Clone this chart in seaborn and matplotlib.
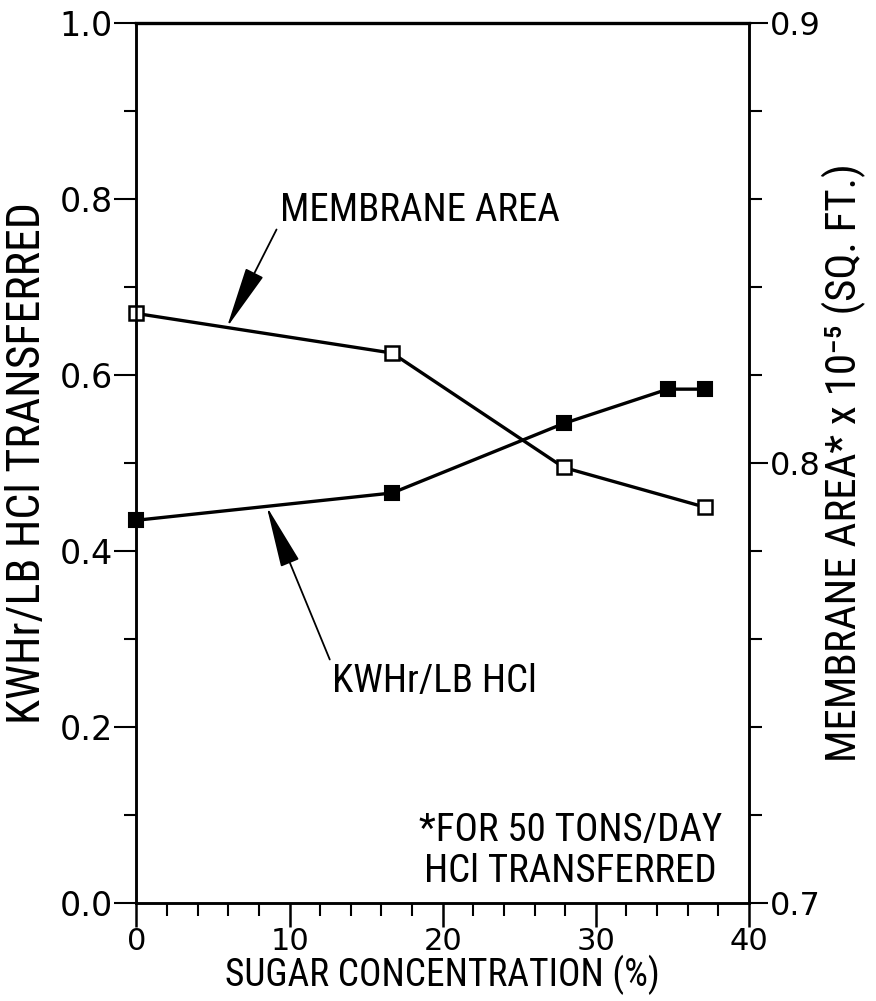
import numpy as np
import pandas as pd
import matplotlib
matplotlib.use("Agg")
import matplotlib.pyplot as plt
import seaborn as sns
from matplotlib.ticker import MultipleLocator

# ---- data ----
sugar_kwh = [0.0, 16.7, 27.9, 34.7, 37.1]
kwh_per_lb = [0.435, 0.466, 0.545, 0.584, 0.584]
sugar_mem = [0.0, 16.7, 27.9, 37.1]
membrane_area = [0.834, 0.825, 0.799, 0.790]

x_ticks = [0, 10, 20, 30, 40]
left_ticks = [0.0, 0.2, 0.4, 0.6, 0.8, 1.0]
right_ticks = [0.7, 0.8, 0.9]

x_label = "SUGAR CONCENTRATION (%)"
left_label = "KWHr/LB HCl TRANSFERRED"
right_label = "MEMBRANE AREA* x 10\u207b\u2075 (SQ. FT.)"
mem_text = "MEMBRANE AREA"
kwh_text = "KWHr/LB HCl"
note_text = "*FOR 50 TONS/DAY\nHCl TRANSFERRED"

sns.set_theme(style="white")
plt.rcParams["font.family"] = ["DejaVu Sans"]
for k in ("text.color", "axes.labelcolor", "xtick.color", "ytick.color"):
    plt.rcParams[k] = "black"
NARROW = ["Roboto Condensed", "Liberation Sans Narrow", "DejaVu Sans"]

fig = plt.figure(figsize=(8.76, 10.01), dpi=100)
ax = fig.add_axes([0.1558, 0.0979, 0.6992, 0.879])
ax2 = ax.twinx()

df_k = pd.DataFrame({"x": sugar_kwh, "y": kwh_per_lb})
df_m = pd.DataFrame({"x": sugar_mem, "y": membrane_area})

sns.lineplot(data=df_k, x="x", y="y", ax=ax, color="black", lw=2.4,
             marker="s", markersize=10, markerfacecolor="black",
             markeredgecolor="black", markeredgewidth=1.5, clip_on=False)
sns.lineplot(data=df_m, x="x", y="y", ax=ax2, color="black", lw=2.4,
             marker="s", markersize=10, markerfacecolor="white",
             markeredgecolor="black", markeredgewidth=1.8, clip_on=False)

ax.set_xlim(0, 40)
ax.set_ylim(0, 1.0)
ax2.set_ylim(0.7, 0.9)

for a in (ax, ax2):
    for s in a.spines.values():
        s.set_color("black")
        s.set_linewidth(1.8)
ax.spines["top"].set_linewidth(2.4)

ax.set_xticks(x_ticks)
ax.xaxis.set_minor_locator(MultipleLocator(2))
ax.set_yticks(left_ticks)
ax.yaxis.set_minor_locator(MultipleLocator(0.1))
ax2.set_yticks(right_ticks)
ax2.yaxis.set_minor_locator(MultipleLocator(0.02))

ax.set_yticklabels([f"{v:.1f}" for v in left_ticks])
ax2.set_yticklabels([f"{v:.1f}" for v in right_ticks])
ax.set_xticklabels([str(v) for v in x_ticks])

ax.tick_params(axis="x", which="major", direction="out", length=17, width=1.8,
               labelsize=22, pad=0, bottom=True, top=False)
ax.tick_params(axis="x", which="minor", direction="out", length=9, width=1.5,
               bottom=True, top=False)
ax.tick_params(axis="y", which="major", direction="out", length=16, width=1.5,
               labelsize=24, pad=1, left=True, right=False)
ax.tick_params(axis="y", which="minor", direction="out", length=9, width=1.5,
               left=True, right=False)
ax2.tick_params(axis="y", which="major", direction="out", length=14, width=1.5,
                labelsize=23, pad=1, right=True, left=False)
ax2.tick_params(axis="y", which="minor", direction="out", length=9, width=1.5,
                right=True, left=False)

ax.set_xlabel(x_label, fontsize=27, family=NARROW)
ax.set_ylabel(left_label, fontsize=33, family=NARROW)
ax2.set_ylabel(right_label, fontsize=31, family=NARROW)
ax.xaxis.set_label_coords(0.5, -0.059)
ax.yaxis.set_label_coords(-0.143, 0.5)
ax2.yaxis.set_label_coords(1.119, 0.5)
ax2.grid(False)
ax.grid(False)

# annotations with arrows
arrow_style = dict(arrowstyle="-|>,head_length=1.4,head_width=0.22",
                   color="black", lw=1.3, shrinkA=0, shrinkB=0)

mem_tip_x = 5.9
mem_tip_y = float(np.interp(mem_tip_x, sugar_mem, membrane_area))
ax2.annotate(mem_text, xy=(mem_tip_x, mem_tip_y), xycoords="data",
             xytext=(0.234, 0.7875), textcoords="axes fraction",
             fontsize=28, family=NARROW, va="center", ha="left",
             arrowprops=dict(relpos=(0, 0.15), **arrow_style))

kwh_tip_x = 8.5
kwh_tip_y = float(np.interp(kwh_tip_x, sugar_kwh, kwh_per_lb))
ax.annotate(kwh_text, xy=(kwh_tip_x, kwh_tip_y), xycoords="data",
            xytext=(0.319, 0.252), textcoords="axes fraction",
            fontsize=28, family=NARROW, va="center", ha="left",
            arrowprops=dict(relpos=(0, 0.95), **arrow_style))

ax.text(0.708, 0.059, note_text, transform=ax.transAxes, fontsize=28,
        family=NARROW, ha="center", va="center", linespacing=1.15)

fig.savefig("out.png", dpi=100, facecolor="white")
